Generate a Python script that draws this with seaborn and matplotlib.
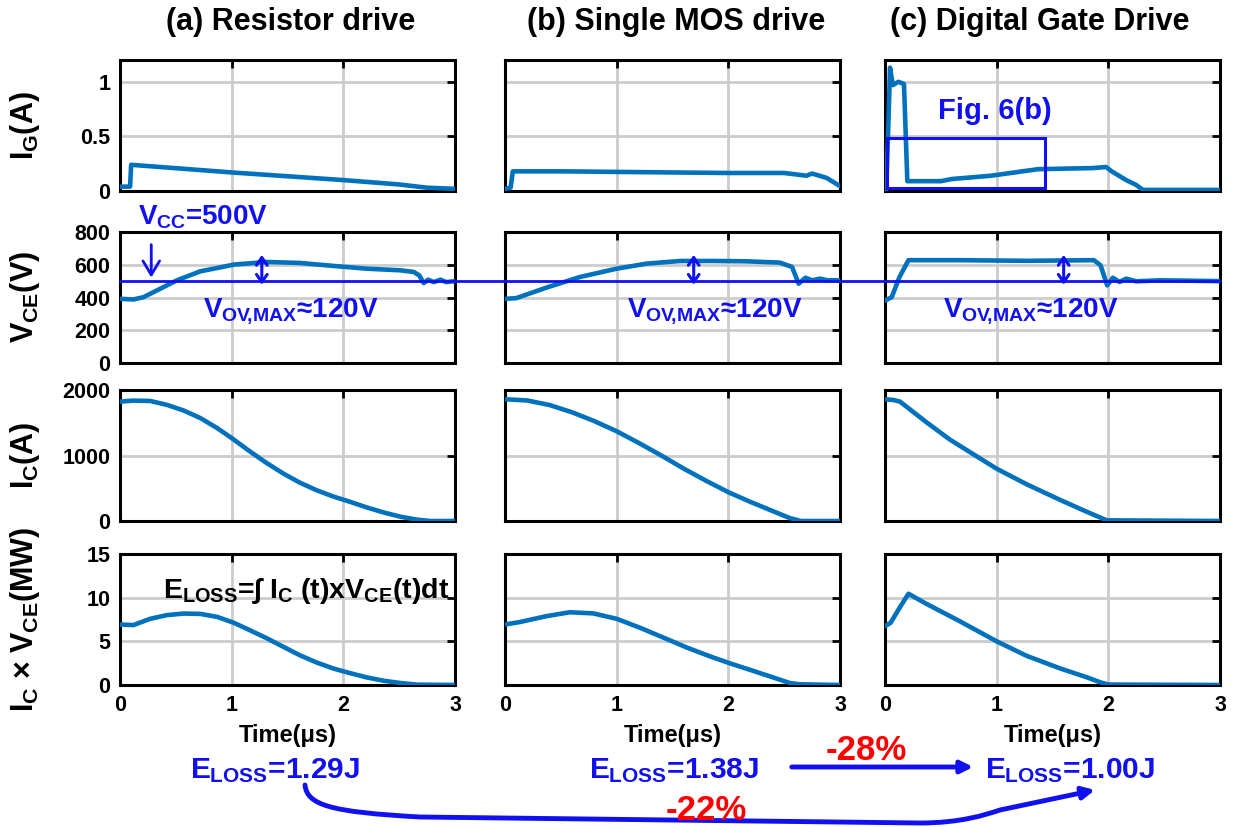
import numpy as np
import pandas as pd
import matplotlib
matplotlib.use('Agg')
import matplotlib.pyplot as plt
import seaborn as sns
from matplotlib.patches import Rectangle, FancyArrowPatch
from matplotlib.path import Path
from matplotlib.lines import Line2D
import matplotlib.transforms as mtransforms

# ---- data (time in us) ----
# gate current I_G (A)
t_ig_a = [0, 0.09, 0.1, 1.0, 2.0, 2.5, 2.75, 3.0]
ig_a = [0.04, 0.04, 0.24, 0.17, 0.10, 0.06, 0.03, 0.02]
t_ig_b = [0, 0.05, 0.07, 0.5, 1.0, 1.5, 2.0, 2.5, 2.7, 2.75, 2.88, 3.0]
ig_b = [0.02, 0.03, 0.18, 0.18, 0.175, 0.17, 0.165, 0.165, 0.14, 0.16, 0.12, 0.045]
t_ig_c = [0, 0.01, 0.03, 0.045, 0.07, 0.12, 0.17, 0.2, 0.5, 0.6, 0.95, 1.37, 1.86, 1.98,
          2.03, 2.16, 2.25, 2.31, 3.0]
ig_c = [0.0, 0.0, 0.6, 1.13, 0.97, 1.0, 0.98, 0.09, 0.09, 0.11, 0.14, 0.2, 0.21, 0.22,
        0.18, 0.1, 0.055, 0.01, 0.01]

# collector-emitter voltage V_CE (V)
t_v_a = [0, 0.12, 0.21, 0.33, 0.51, 0.72, 0.87, 1.02, 1.31, 1.61, 1.91, 2.21, 2.51, 2.63,
         2.68, 2.72, 2.76, 2.81, 2.87, 2.92, 3.0]
v_a = [392, 388, 402, 443, 505, 560, 580, 601, 617, 611, 593, 576, 566, 556, 535, 488, 509,
       494, 509, 494, 500]
t_v_b = [0, 0.1, 0.37, 0.67, 1.0, 1.27, 1.57, 1.87, 2.16, 2.46, 2.57, 2.63, 2.69, 2.75,
         2.82, 2.89, 3.0]
v_b = [392, 396, 460, 525, 576, 607, 623, 623, 621, 613, 587, 484, 521, 505, 515, 505, 505]
t_v_c = [0, 0.06, 0.13, 0.21, 0.67, 1.27, 1.87, 1.93, 1.99, 2.04, 2.1, 2.16, 2.25, 2.46, 3.0]
v_c = [381, 402, 525, 628, 628, 624, 628, 597, 474, 521, 495, 515, 499, 505, 500]

# collector current I_C (A)
t_ic_a = [0, 0.12, 0.27, 0.42, 0.57, 0.72, 0.87, 1.02, 1.16, 1.31, 1.46, 1.61, 1.76, 1.91,
          2.06, 2.21, 2.36, 2.51, 2.66, 2.78, 3.0]
ic_a = [1823, 1838, 1833, 1773, 1687, 1571, 1419, 1242, 1066, 889, 727, 586, 470, 374,
        293, 207, 131, 66, 20, 0, 0]
t_ic_b = [0, 0.2, 0.4, 0.6, 0.8, 1.0, 1.2, 1.4, 1.6, 1.8, 2.0, 2.2, 2.4, 2.55, 2.65, 3.0]
ic_b = [1859, 1840, 1770, 1660, 1525, 1370, 1190, 1000, 800, 615, 440, 290, 150, 45, 0, 0]
t_ic_c = [0, 0.075, 0.134, 0.373, 0.582, 0.761, 1.0, 1.268, 1.567, 1.806, 1.925, 1.985, 3.0]
ic_c = [1859, 1848, 1823, 1505, 1242, 1051, 798, 561, 323, 141, 55, 10, 0]

# power I_C x V_CE (MW)
t_p_a = [0, 0.12, 0.27, 0.42, 0.57, 0.72, 0.87, 1.02, 1.16, 1.31, 1.46, 1.61, 1.76, 1.91,
         2.06, 2.21, 2.36, 2.51, 2.66, 3.0]
p_a = [6.93, 6.86, 7.58, 8.0, 8.18, 8.14, 7.8, 7.12, 6.29, 5.38, 4.39, 3.41, 2.58, 1.89,
       1.36, 0.87, 0.49, 0.23, 0.04, 0]
t_p_b = [0, 0.13, 0.37, 0.58, 0.79, 1.0, 1.21, 1.42, 1.63, 1.84, 2.01, 2.22, 2.4, 2.55,
         2.64, 3.0]
p_b = [6.93, 7.2, 7.88, 8.33, 8.2, 7.58, 6.55, 5.42, 4.28, 3.26, 2.5, 1.63, 0.87, 0.23,
       0.08, 0]
t_p_c = [0, 0.05, 0.13, 0.21, 0.37, 0.67, 1.0, 1.27, 1.57, 1.81, 1.93, 2.0, 3.0]
p_c = [6.74, 7.12, 8.83, 10.45, 9.3, 7.3, 5.0, 3.33, 1.89, 0.87, 0.3, 0.05, 0]

titles = ['(a) Resistor drive', '(b) Single MOS drive', '(c) Digital Gate Drive']
e_loss = ['1.29J', '1.38J', '1.00J']
ylabels = [r'$I_G$(A)', r'$V_{CE}$(V)', r'$I_C$(A)', r'$I_C$ × $V_{CE}$(MW)']

# ---- style ----
sns.set_theme(style='whitegrid')
plt.rcParams['font.family'] = ['Liberation Sans', 'DejaVu Sans']
plt.rcParams['font.weight'] = 'bold'
plt.rcParams['text.color'] = 'black'
plt.rcParams['axes.labelcolor'] = 'black'
plt.rcParams['mathtext.fontset'] = 'custom'
plt.rcParams['mathtext.rm'] = 'Liberation Sans:bold'
plt.rcParams['mathtext.it'] = 'Liberation Sans:bold'
plt.rcParams['mathtext.bf'] = 'Liberation Sans:bold'

LINE = '#0072BD'
BLUE = '#1010F0'
RED = '#FF0000'

W, H = 1234, 827
fig = plt.figure(figsize=(W / 100, H / 100), dpi=100)

col_left = [120, 505, 885]
col_w = 335
row_top = [60, 232, 390, 554]
row_h = 131

rows = [
    ([(t_ig_a, ig_a), (t_ig_b, ig_b), (t_ig_c, ig_c)], (0, 1.2), [0, 0.5, 1], ['0', '0.5', '1']),
    ([(t_v_a, v_a), (t_v_b, v_b), (t_v_c, v_c)], (0, 800), [0, 200, 400, 600, 800],
     ['0', '200', '400', '600', '800']),
    ([(t_ic_a, ic_a), (t_ic_b, ic_b), (t_ic_c, ic_c)], (0, 2000), [0, 1000, 2000],
     ['0', '1000', '2000']),
    ([(t_p_a, p_a), (t_p_b, p_b), (t_p_c, p_c)], (0, 15), [0, 5, 10, 15], ['0', '5', '10', '15']),
]

axes = [[None] * 3 for _ in range(4)]
for r, (series, ylim, yt, ytl) in enumerate(rows):
    for c in range(3):
        rect = [col_left[c] / W, 1 - (row_top[r] + row_h) / H, col_w / W, row_h / H]
        ax = fig.add_axes(rect)
        axes[r][c] = ax
        tt, yy = series[c]
        df = pd.DataFrame({'t': tt, 'y': yy})
        sns.lineplot(data=df, x='t', y='y', ax=ax, color=LINE, linewidth=3.3,
                     estimator=None, sort=False, zorder=3)
        ax.set_xlim(0, 3)
        ax.set_ylim(*ylim)
        ax.set_xticks([0, 1, 2, 3])
        ax.set_yticks(yt)
        ax.grid(True, color='#cccccc', linewidth=2)
        ax.set_facecolor('white')
        for s in ax.spines.values():
            s.set_visible(True)
            s.set_color('black')
            s.set_linewidth(2.2)
        ax.tick_params(direction='in', length=6, width=2, top=True, right=True,
                       labelsize=15.5, pad=7, colors='black')
        ax.set_xlabel('')
        ax.set_ylabel('')
        if c == 0:
            ax.set_yticklabels(ytl, fontweight='bold')
            ax.set_ylabel(ylabels[r], fontsize=22, fontweight='bold')
            ax.yaxis.set_label_coords(-0.233, 0.5)
        else:
            ax.set_yticklabels([])
        if r == 3:
            ax.set_xticklabels(['0', '1', '2', '3'], fontweight='bold')
            ax.set_xlabel('Time(μs)', fontsize=17, fontweight='bold', labelpad=6)
        else:
            ax.set_xticklabels([])

# column titles
for x, s in zip([291, 676, 1040], titles):
    fig.text(x / W, 1 - 22 / H, s, ha='center', va='center', fontsize=22, fontweight='bold')

# ---- annotations ----
# V_CC line across all columns
ax_v = axes[1][0]
trans = mtransforms.blended_transform_factory(fig.transFigure, ax_v.transData)
fig.add_artist(Line2D([120 / W, 1220 / W], [500, 500], transform=trans, color=BLUE,
                      linewidth=2, zorder=5))
ax_v.text(0.74, 892, r'$V_{CC}$=500V', color=BLUE, fontsize=20, fontweight='bold',
          ha='center', va='center', clip_on=False)
ax_v.annotate('', xy=(0.28, 505), xytext=(0.28, 740),
              arrowprops=dict(arrowstyle='->, head_length=0.5, head_width=0.3', color=BLUE,
                              lw=2, mutation_scale=20),
              annotation_clip=False)

for c, (tx, ta) in enumerate([(0.74, 1.27), (1.09, 1.69), (0.52, 1.60)]):
    ax = axes[1][c]
    ax.annotate('', xy=(ta, 660), xytext=(ta, 478),
                arrowprops=dict(arrowstyle='<->, head_length=0.5, head_width=0.35',
                                color=BLUE, lw=2.2, mutation_scale=11,
                                shrinkA=0, shrinkB=0), zorder=6)
    ax.text(tx, 318, r'$V_{OV\!,\!MAX}$≈120V', color=BLUE, fontsize=20, fontweight='bold',
            ha='left', va='center')

# Fig. 6(b) box
ax_g = axes[0][2]
ax_g.add_patch(Rectangle((0.02, 0.03), 1.41, 0.46, fill=False, edgecolor=BLUE,
                         linewidth=2.2, zorder=4))
ax_g.text(0.98, 0.73, 'Fig. 6(b)', color=BLUE, fontsize=21, fontweight='bold',
          ha='center', va='center')

# energy formula
axes[3][0].text(0.385, 10.8, r'$E_{LOSS}$=∫ $I_C$ (t)x$V_{CE}$(t)dt', color='black',
                fontsize=20.5, fontweight='bold', ha='left', va='center')

# bottom E_LOSS values
for x, s in zip([190, 589, 985], e_loss):
    fig.text(x / W, 1 - 771 / H, r'$E_{LOSS}$=' + s, color=BLUE, fontsize=21.5,
             fontweight='bold', ha='left', va='center')

# straight arrow -28%
fig.add_artist(FancyArrowPatch((789 / W, 1 - 767 / H), (976 / W, 1 - 767 / H),
                               transform=fig.transFigure, arrowstyle='-|>',
                               mutation_scale=18, color=BLUE, linewidth=3.5))
fig.text(866 / W, 1 - 750 / H, '-28%', color=RED, fontsize=25, fontweight='bold',
         ha='center', va='center')

# curved arrow -22%
pts = [(305, 785), (307, 805), (330, 812), (420, 817), (920, 823),
       (960, 823), (985, 815), (1000, 810), (1095, 790)]
codes = [Path.MOVETO, Path.CURVE4, Path.CURVE4, Path.CURVE4, Path.LINETO,
         Path.CURVE4, Path.CURVE4, Path.CURVE4, Path.LINETO]
verts = [(x / W, 1 - y / H) for x, y in pts]
fig.add_artist(FancyArrowPatch(path=Path(verts, codes), transform=fig.transFigure,
                               arrowstyle='-|>', mutation_scale=18, color=BLUE, linewidth=3.5))
fig.text(706 / W, 1 - 810 / H, '-22%', color=RED, fontsize=25, fontweight='bold',
         ha='center', va='center')

fig.savefig('out.png', dpi=100, facecolor='white')
